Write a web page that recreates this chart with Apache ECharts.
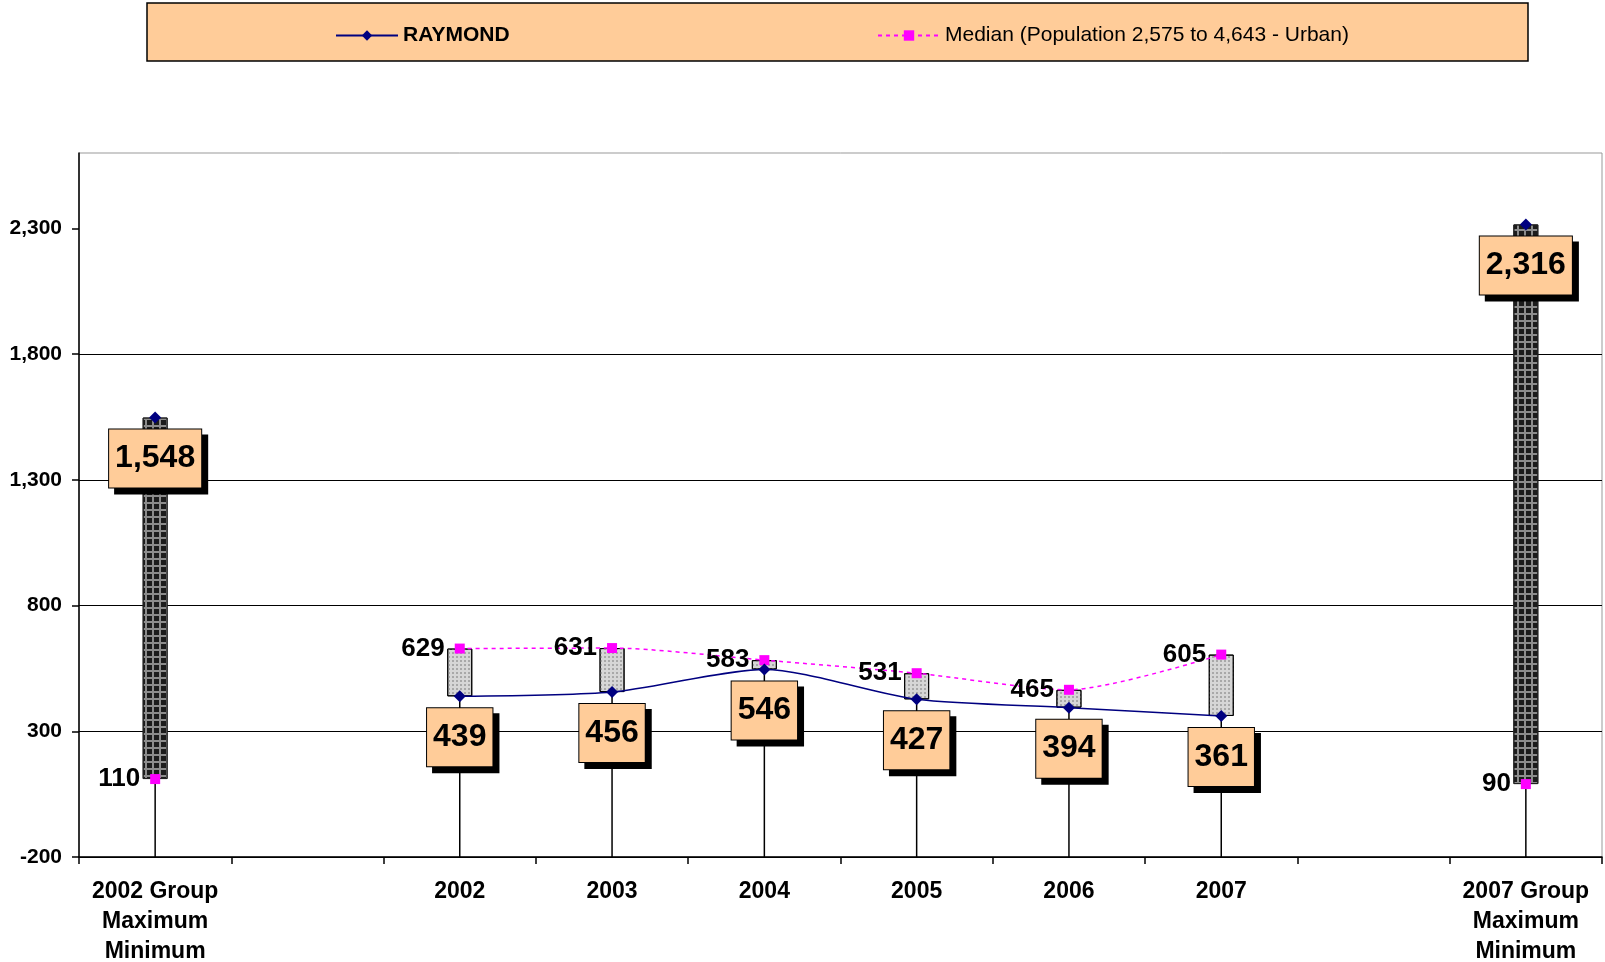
<!DOCTYPE html>
<html>
<head>
<meta charset="utf-8">
<script src="https://cdn.jsdelivr.net/npm/echarts@6/dist/echarts.min.js"></script>
<style>
  html, body { margin: 0; padding: 0; background: #fff; }
  #chart { width: 1605px; height: 962px; }
</style>
</head>
<body>
<div id="chart"></div>
<script>
// categories on the x axis (index 1 and 8 are empty spacer slots)
const xLabels = ['2002 Group\nMaximum\nMinimum', '', '2002', '2003', '2004', '2005', '2006', '2007', '', '2007 Group\nMaximum\nMinimum'];
const yearSlots = [2, 3, 4, 5, 6, 7];
const groupSlots = [0, 9];

const raymond = [439, 456, 546, 427, 394, 361];
const median = [629, 631, 583, 531, 465, 605];
const groupMax = [1548, 2316];
const groupMin = [110, 90];

const yTicks = [-200, 300, 800, 1300, 1800, 2300];
const yMin = -200, yMax = 2600;

const FONT = 'Liberation Sans, Arial, sans-serif';
const fmt = v => Number(v).toLocaleString('en-US');

// spread the small arrays onto the 10 category slots
function slots(idx, vals) {
    const out = new Array(xLabels.length).fill(null);
    idx.forEach((s, i) => { out[s] = vals[i]; });
    return out;
}

const raymondFull = slots(yearSlots, raymond);
const medianFull = slots(yearSlots, median);
const lows = slots(yearSlots, raymond.map((v, i) => Math.min(v, median[i])));
const highs = slots(yearSlots, raymond.map((v, i) => Math.max(v, median[i])));
groupSlots.forEach((s, i) => { lows[s] = groupMin[i]; highs[s] = groupMax[i]; });

const lightBar = {
    color: '#d6d6d6', borderColor: '#000', borderWidth: 1,
    decal: { symbol: 'rect', color: '#a8a8a8', dashArrayX: [1.5, 1.5], dashArrayY: [1.5, 1.5], symbolSize: 1 }
};
const darkBar = {
    color: '#8c8c8c', borderColor: '#222', borderWidth: 1,
    decal: { symbol: 'rect', color: '#1c1c1c', dashArrayX: [5, 1.6], dashArrayY: [5, 1.6], symbolSize: 1 }
};

const spanData = lows.map((lo, i) => {
    if (lo == null) return null;
    return { value: highs[i] - lo, itemStyle: groupSlots.includes(i) ? darkBar : lightBar };
});

const dropData = lows.map((lo, i) => lo == null ? null : [i, lo]).filter(d => d);

const boxLabel = {
    show: true,
    position: 'bottom',
    distance: 6,
    formatter: p => fmt(Array.isArray(p.value) ? p.value[1] : p.value),
    fontFamily: FONT,
    fontSize: 32,
    fontWeight: 'bold',
    color: '#000',
    backgroundColor: '#FFCC99',
    borderColor: '#000',
    borderWidth: 1,
    padding: [10, 6, 10, 6],
    lineHeight: 38,
    shadowColor: '#000',
    shadowBlur: 0,
    shadowOffsetX: 6,
    shadowOffsetY: 6
};
const sideLabel = {
    show: true,
    position: 'left',
    distance: 10,
    fontFamily: FONT,
    fontSize: 26,
    fontWeight: 'bold',
    color: '#000'
};

const chart = echarts.init(document.getElementById('chart'));
chart.setOption({
    animation: false,
    graphic: [{
        type: 'rect', z: 0,
        shape: { x: 147, y: 3, width: 1381, height: 58 },
        style: { fill: '#FFCC99', stroke: '#000', lineWidth: 1.5 }
    }],
    legend: [
        {
            z: 10, left: 335, top: 25, padding: 0,
            itemWidth: 62, itemHeight: 13, itemGap: 0,
            data: ['RAYMOND'],
            textStyle: { fontFamily: FONT, fontSize: 21, fontWeight: 'bold', color: '#000' }
        },
        {
            z: 10, left: 877, top: 25, padding: 0,
            itemWidth: 62, itemHeight: 13, itemGap: 0,
            data: ['Median (Population 2,575 to 4,643 - Urban)'],
            textStyle: { fontFamily: FONT, fontSize: 21, color: '#000' }
        }
    ],
    grid: {
        left: 79, right: 3, top: 153, bottom: 105,
        show: true, borderColor: '#999', borderWidth: 1,
        outerBoundsMode: 'none'
    },
    xAxis: {
        type: 'category',
        data: xLabels,
        boundaryGap: true,
        axisLine: { onZero: false, lineStyle: { color: '#000', width: 1.5 } },
        axisTick: { show: true, length: 7, lineStyle: { color: '#000', width: 1.5 } },
        axisLabel: {
            interval: 0, margin: 20,
            fontFamily: FONT, fontSize: 23, fontWeight: 'bold', color: '#000', lineHeight: 30
        },
        splitLine: { show: false }
    },
    yAxis: {
        type: 'value',
        min: yMin, max: yMax, interval: 500,
        axisLine: { show: true, lineStyle: { color: '#000', width: 1.5 } },
        axisTick: { show: true, length: 7, customValues: yTicks, lineStyle: { color: '#000', width: 1.5 } },
        axisLabel: {
            customValues: yTicks, margin: 17,
            formatter: v => fmt(v),
            fontFamily: FONT, fontSize: 21, fontWeight: 'bold', color: '#000'
        },
        splitLine: { show: true, showMaxLine: false, lineStyle: { color: '#000', width: 1.2 } }
    },
    series: [
        {
            name: 'drop',
            type: 'custom',
            z: 1,
            silent: true,
            data: dropData,
            renderItem: (params, api) => {
                const top = api.coord([api.value(0), api.value(1)]);
                const bot = api.coord([api.value(0), yMin]);
                return {
                    type: 'line',
                    shape: { x1: top[0], y1: top[1], x2: bot[0], y2: bot[1] },
                    style: { stroke: '#000', lineWidth: 1.5 }
                };
            }
        },
        {
            name: 'base',
            type: 'bar',
            stack: 'range',
            barWidth: 25,
            z: 2,
            silent: true,
            itemStyle: { color: 'transparent' },
            data: lows
        },
        {
            name: 'span',
            type: 'bar',
            stack: 'range',
            barWidth: 25,
            z: 2,
            data: spanData
        },
        {
            name: 'Median (Population 2,575 to 4,643 - Urban)',
            type: 'line',
            z: 4,
            smooth: 0.25,
            data: medianFull,
            symbol: 'rect',
            symbolSize: 10,
            itemStyle: { color: '#FF00FF' },
            lineStyle: { color: '#FF00FF', width: 1.5, type: [4, 4] },
            label: sideLabel
        },
        {
            name: 'RAYMOND',
            type: 'line',
            z: 5,
            smooth: 0.25,
            data: raymondFull,
            symbol: 'diamond',
            symbolSize: 12,
            itemStyle: { color: '#000080' },
            lineStyle: { color: '#000080', width: 1.5 },
            label: boxLabel
        },
        {
            name: 'groupMin',
            type: 'scatter',
            z: 4,
            data: slots(groupSlots, groupMin),
            symbol: 'rect',
            symbolSize: 10,
            itemStyle: { color: '#FF00FF', opacity: 1 },
            label: sideLabel
        },
        {
            name: 'groupMax',
            type: 'scatter',
            z: 5,
            data: slots(groupSlots, groupMax),
            symbol: 'diamond',
            symbolSize: 12,
            itemStyle: { color: '#000080', opacity: 1 },
            label: boxLabel
        }
    ]
});
</script>
</body>
</html>
